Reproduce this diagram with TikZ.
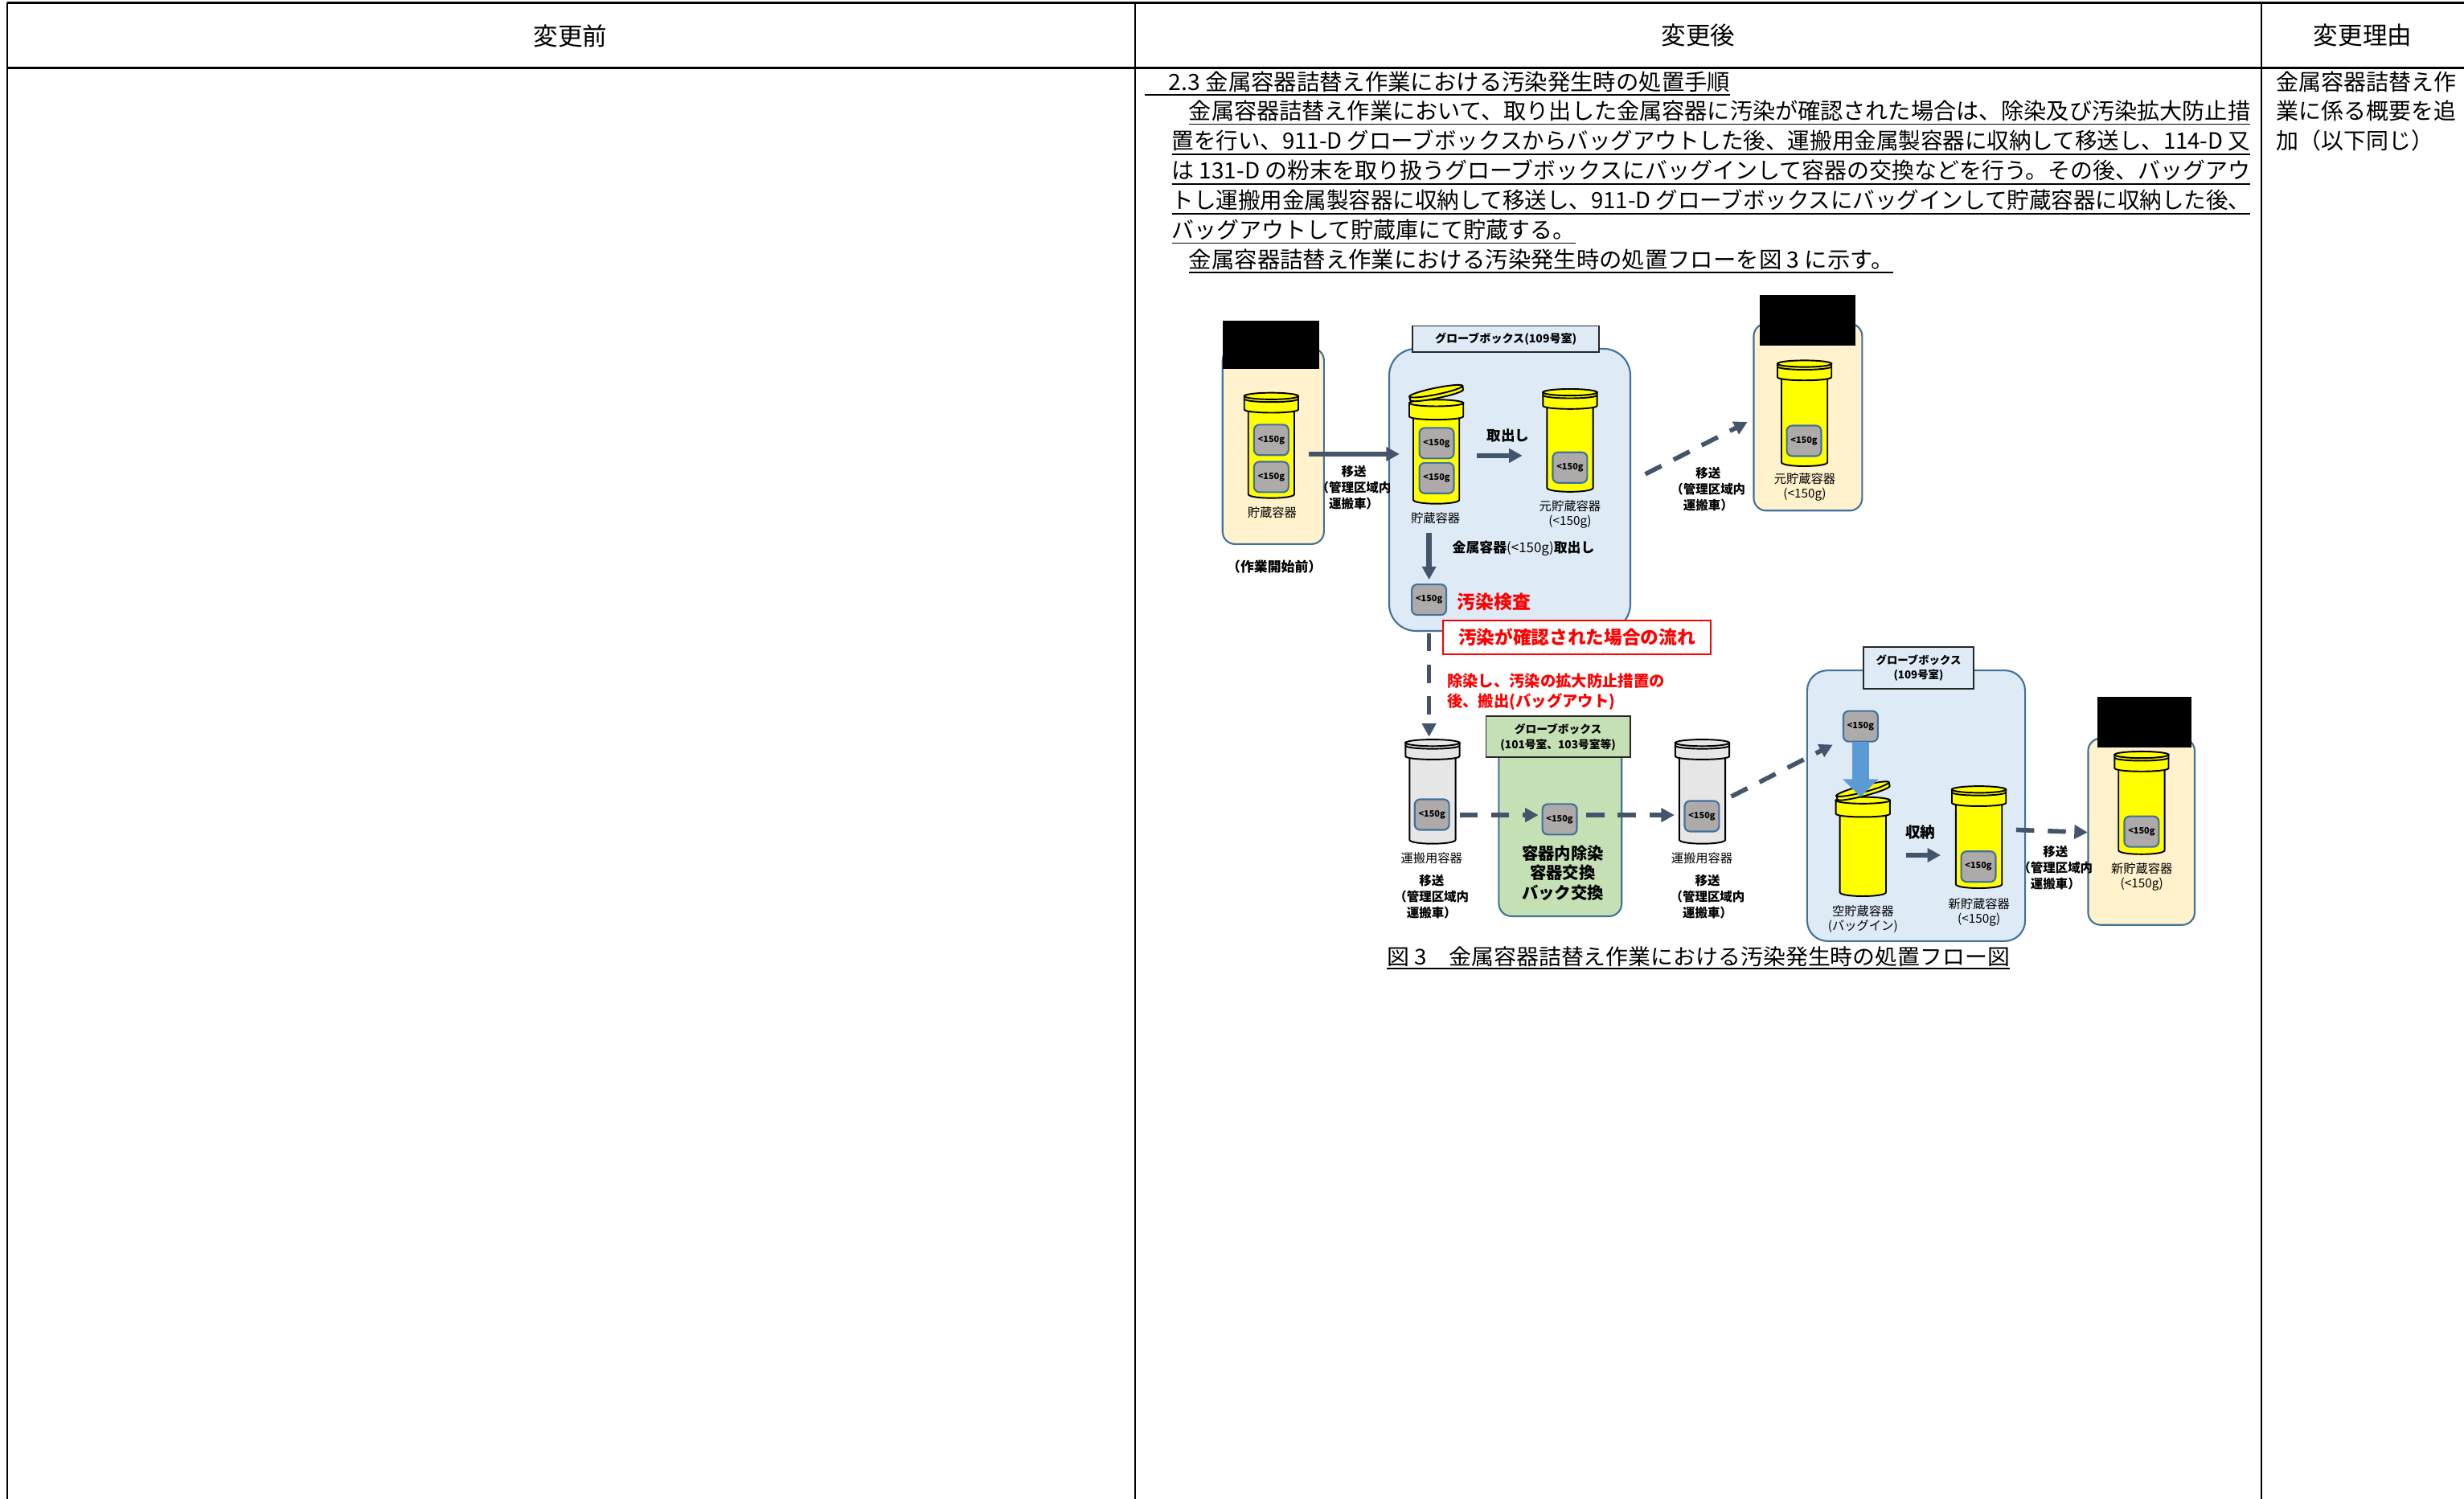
\documentclass[tikz,border=0pt]{standalone}
\usepackage{fontspec}
\usepackage{graphicx}
\setmainfont{Noto Sans CJK JP}
\usetikzlibrary{arrows.meta}

\definecolor{creamfill}{HTML}{FFF2CC}
\definecolor{gbfill}{HTML}{DEEBF7}
\definecolor{gbedge}{HTML}{41719C}
\definecolor{greenfill}{HTML}{C5E0B4}
\definecolor{blkfill}{HTML}{AEAAAA}
\definecolor{arrowc}{HTML}{44546A}
\definecolor{jaryel}{HTML}{FFFF00}
\definecolor{jargray}{HTML}{E7E6E6}
\definecolor{bigblue}{HTML}{5B9BD5}

\newdimen\su \su=0.19547mm

% closed jar: centre x, top of cap, bottom, fill
\newcommand{\jar}[4]{%
  \begin{scope}[shift={(#1,#2)}, line width=0.55pt]
    \filldraw[fill=#4] (-14.65,11) -- (-14.65,#3-#2-2.5) .. controls (-14.65,#3-#2+0.85) and (14.65,#3-#2+0.85) .. (14.65,#3-#2-2.5) -- (14.65,11) -- cycle;
    \filldraw[fill=#4] (-17.2,2.1) -- (-17.2,10.6) .. controls (-17.2,13.4) and (17.2,13.4) .. (17.2,10.6) -- (17.2,2.1) -- cycle;
    \filldraw[fill=#4] (0,2.1) ellipse [x radius=17.2, y radius=2.1];
    \draw (-17.2,3.8) .. controls (-17.2,6.6) and (17.2,6.6) .. (17.2,3.8);
  \end{scope}}

% open jar with tilted lid: centre x, top of ring, bottom, fill, lid x, lid y, tilt
\newcommand{\ojar}[7]{%
  \begin{scope}[shift={(#1,#2)}, line width=0.55pt]
    \filldraw[fill=#4] (-14.65,11) -- (-14.65,#3-#2-2.5) .. controls (-14.65,#3-#2+0.85) and (14.65,#3-#2+0.85) .. (14.65,#3-#2-2.5) -- (14.65,11) -- cycle;
    \filldraw[fill=#4] (-17.2,2.1) -- (-17.2,10.6) .. controls (-17.2,13.4) and (17.2,13.4) .. (17.2,10.6) -- (17.2,2.1) -- cycle;
    \filldraw[fill=#4] (0,2.1) ellipse [x radius=17.2, y radius=2.1];
  \end{scope}
  \begin{scope}[shift={(#5,#6)}, rotate=#7, line width=0.55pt]
    \filldraw[fill=#4] (-17.2,0) -- (-17.2,2.4) .. controls (-17.2,5.2) and (17.2,5.2) .. (17.2,2.4) -- (17.2,0) -- cycle;
    \filldraw[fill=#4] (0,0) ellipse [x radius=17.2, y radius=2.1];
  \end{scope}}

\begin{document}
\begin{tikzpicture}[x=0.19547mm, y=-0.19547mm,
  every node/.style={inner sep=0pt, outer sep=0pt},
  hd/.style={font=\fontsize{8.7}{10}\selectfont},
  txt/.style={font=\fontsize{7.95}{9.5}\selectfont, anchor=base west},
  uline/.style={line width=0.5pt},
  cream/.style={draw=gbedge, fill=creamfill, line width=0.6pt, rounded corners=4.4pt},
  gbox/.style={draw=gbedge, fill=gbfill, line width=0.6pt},
  tbox/.style={draw=black!85, fill=gbfill, line width=0.5pt},
  blk/.style={draw=gbedge, fill=blkfill, line width=0.6pt, rounded corners=1.9pt,
    minimum width=12.2pt, minimum height=10.8pt, font=\fontsize{3.1}{3.5}\selectfont\bfseries},
  lbl/.style={font=\fontsize{4.35}{5.2}\selectfont, align=center},
  mv/.style={font=\fontsize{4.4}{5.7}\selectfont\bfseries, align=center},
  ttl/.style={font=\fontsize{3.9}{5.3}\selectfont\bfseries, align=center},
  flow/.style={draw=arrowc, line width=1.8pt, -{Triangle[length=4.7pt, width=4.8pt]}},
  dflow/.style={flow, line width=1.6pt, dash pattern=on 6.4pt off 4.8pt},
  bigflow/.style={draw=bigblue, line width=5.9pt, -{Triangle[length=6.3pt, width=12.2pt]}}]
\useasboundingbox (0,0) rectangle (1568,954);

% table frame
\draw[line width=0.95pt] (4.5,1.7) -- (1568,1.7);
\draw[line width=0.95pt] (4.5,43.1) -- (1568,43.1);
\draw[line width=0.55pt] (4.5,1.7) -- (4.5,954) (722.3,1.7) -- (722.3,954) (1439.2,1.7) -- (1439.2,954);
\node[hd] (before) at (363,22.7) {変更前};
\node[hd] (after) at (1080.7,22.7) {変更後};
\node[hd] (reason) at (1503.6,22.7) {変更理由};

% body text
\node[txt] (h) at (743.8,57.5) {\resizebox{357.2\su}{\height}{2.3 金属容器詰替え作業における汚染発生時の処置手順}};
\node[txt] (l1) at (756.6,76) {\resizebox{675.4\su}{\height}{金属容器詰替え作業において、取り出した金属容器に汚染が確認された場合は、除染及び汚染拡大防止措}};
\node[txt] (l2) at (745.7,95) {\resizebox{686.3\su}{\height}{置を行い、911-D グローブボックスからバッグアウトした後、運搬用金属製容器に収納して移送し、114-D 又}};
\node[txt] (l3) at (745.7,114) {\resizebox{686.3\su}{\height}{は 131-D の粉末を取り扱うグローブボックスにバッグインして容器の交換などを行う。その後、バッグアウ}};
\node[txt] (l4) at (745.7,133) {\resizebox{686.3\su}{\height}{トし運搬用金属製容器に収納して移送し、911-D グローブボックスにバッグインして貯蔵容器に収納した後、}};
\node[txt] (l5) at (745.7,151.7) {バッグアウトして貯蔵庫にて貯蔵する。};
\node[txt] (l6) at (756.6,170.4) {\resizebox{448.4\su}{\height}{金属容器詰替え作業における汚染発生時の処置フローを図 3 に示す。}};
\draw[uline] ([xshift=-8.5pt,yshift=-1.7pt]h.base west) -- ([yshift=-1.7pt]h.base east);
\foreach \l in {l1,l2,l3,l4,l5,l6}
  \draw[uline] ([yshift=-1.7pt]\l.base west) -- ([yshift=-1.7pt]\l.base east);

\node[txt] (r1) at (1448.6,57.5) {金属容器詰替え作};
\node[txt] (r2) at (1448.6,76) {業に係る概要を追};
\node[txt] (r3) at (1448.6,95) {加（以下同じ）};

% before the work
\draw[cream] (778,221.5) rectangle (842.5,346.3);
\fill (778,204) rectangle (839.5,235);
\jar{809}{250}{317}{jaryel}
\node[blk] (s1a) at (809,280) {<150g};
\node[blk] (s1b) at (809,303.6) {<150g};
\node[lbl] (s1) at (809.5,326) {貯蔵容器};
\node[mv, font=\fontsize{4.8}{5.7}\selectfont\bfseries] (pre) at (811,360.7) {（作業開始前）};

% glovebox 109, first pass
\draw[gbox, rounded corners=9.5pt] (884,222) rectangle (1037.5,401.6);
\draw[tbox] (899,207.5) rectangle (1017.5,224);
\node[ttl, font=\fontsize{4}{5}\selectfont\bfseries] (gb1) at (958.3,215.8) {グローブボックス(109号室)};
\ojar{914}{254.4}{320.6}{jaryel}{913.8}{249}{11.5}
\node[blk] (s2a) at (914.2,282.1) {<150g};
\node[blk] (s2b) at (914.2,304.3) {<150g};
\node[lbl] (s2) at (913.5,330) {貯蔵容器};
\jar{999.1}{247.6}{313}{jaryel}
\node[blk] (o1a) at (999.1,297.6) {<150g};
\node[lbl] (o1) at (999.1,327.3) {元貯蔵容器\\(<150g)};
\node[mv, font=\fontsize{5}{6}\selectfont\bfseries] (take) at (959.7,277) {取出し};
\node[font=\fontsize{4.8}{6}\selectfont] (take2) at (969.5,349) {\textbf{金属容器}(<150g)\textbf{取出し}};
\node[blk] (chk) at (909.4,381.7) {<150g};
\node[text=red, font=\fontsize{6.5}{7.5}\selectfont\bfseries] (insp) at (950.6,383) {汚染検査};

\coordinate (mv1a) at (833,289);
\coordinate (mv1b) at (890.6,289);
\coordinate (tk1a) at (940,290);
\coordinate (tk1b) at (968.8,290);
\coordinate (dn1a) at (909.4,339);
\coordinate (dn1b) at (909.4,369);
\draw[flow] (mv1a) -- (mv1b);
\draw[flow] (tk1a) -- (tk1b);
\draw[flow] (dn1a) -- (dn1b);
\node[mv] (mv1) at (861.5,310.5) {移送\\（管理区域内\\運搬車）};

% back to storage
\draw[cream] (1116,206) rectangle (1185,325);
\fill (1120,188) rectangle (1180.6,220);
\jar{1148.3}{229.4}{296.7}{jaryel}
\node[blk] (o2a) at (1148,280.6) {<150g};
\node[lbl] (o2) at (1148.5,310) {元貯蔵容器\\(<150g)};
\coordinate (mv2a) at (1047,301.8);
\coordinate (mv2b) at (1112,268.6);
\draw[dflow] (mv2a) -- (mv2b);
\node[mv] (mv2) at (1087,311.5) {移送\\（管理区域内\\運搬車）};

% contamination found
\node[draw=red, fill=white, line width=0.6pt, minimum width=94.9pt, minimum height=12pt,
  text=red, font=\fontsize{6.45}{7.5}\selectfont\bfseries] (found) at (1003.4,405.6) {汚染が確認された場合の流れ};
\coordinate (dn2a) at (909.4,403);
\coordinate (dn2b) at (909.4,469);
\draw[dflow] (dn2a) -- (dn2b);
\node[anchor=west, align=left, text=red, font=\fontsize{5.5}{7}\selectfont\bfseries] (note) at (921,440.3) {除染し、汚染の拡大防止措置の\\後、搬出(バッグアウト)};

% transfer jar and glovebox 101/103
\jar{911.6}{470.7}{537}{jargray}
\node[blk] (t1a) at (911.2,518.5) {<150g};
\node[lbl] (t1) at (911,546) {運搬用容器};
\node[mv] (mv3) at (911,571) {移送\\（管理区域内\\運搬車）};

\draw[draw=gbedge, fill=greenfill, line width=0.6pt, rounded corners=4.5pt] (953.8,470) rectangle (1032,583.2);
\draw[draw=black!85, fill=greenfill, line width=0.5pt] (945.6,456) rectangle (1037.4,482);
\node[ttl] (gb2) at (991.5,469.4) {グローブボックス\\(101号室、103号室等)};
\node[blk] (g1a) at (992.5,521.5) {<150g};
\node[mv, font=\fontsize{5.8}{6.95}\selectfont\bfseries] (dec) at (994.5,555.6) {容器内除染\\容器交換\\バック交換};

\coordinate (d3a) at (928.8,518.8);
\coordinate (d3b) at (979,518.8);
\coordinate (d4a) at (1009.4,518.8);
\coordinate (d4b) at (1065.6,518.8);
\draw[dflow] (d3a) -- (d3b);
\draw[dflow] (d4a) -- (d4b);

\jar{1083.3}{470.7}{537}{jargray}
\node[blk] (t2a) at (1083,519.5) {<150g};
\node[lbl] (t2) at (1083,546) {運搬用容器};
\node[mv] (mv4) at (1086.6,571) {移送\\（管理区域内\\運搬車）};

% glovebox 109, second pass
\draw[gbox, rounded corners=7.2pt] (1150,426.7) rectangle (1288.7,599);
\draw[tbox] (1185.8,411.8) rectangle (1256,438.6);
\node[ttl, font=\fontsize{3.8}{5.3}\selectfont\bfseries] (gb3) at (1220.9,425.2) {グローブボックス\\(109号室)};
\coordinate (d5a) at (1101.7,507);
\coordinate (d5b) at (1166.3,474);
\draw[dflow] (d5a) -- (d5b);
\ojar{1185.5}{507.3}{570.4}{jaryel}{1185.3}{502.2}{14.5}
\node[blk] (bin) at (1184,462.3) {<150g};
\coordinate (ej) at (1184,507.3);
\draw[bigflow] (bin.south) -- (ej);
\node[lbl] (ej1) at (1185.5,585.2) {空貯蔵容器\\(バッグイン)};
\jar{1259.3}{500.4}{565.3}{jaryel}
\node[blk] (n1a) at (1259,551.6) {<150g};
\node[lbl] (n1) at (1259.4,580.5) {新貯蔵容器\\(<150g)};
\coordinate (st3a) at (1212.8,544.3);
\coordinate (st3b) at (1235,544.3);
\draw[flow] (st3a) -- (st3b);
\node[mv, font=\fontsize{5.3}{6}\selectfont\bfseries] (keep) at (1222,529.5) {収納};

% new storage
\draw[cream] (1328.8,470) rectangle (1396.6,588.7);
\fill (1334.7,443.5) rectangle (1394.4,475.8);
\jar{1362.8}{478.3}{543.7}{jaryel}
\node[blk] (n2a) at (1362.8,529.3) {<150g};
\node[lbl] (n2) at (1363,558.2) {新貯蔵容器\\(<150g)};
\coordinate (d6a) at (1283,528.2);
\coordinate (d6b) at (1328.5,529.8);
\draw[dflow] (d6a) -- (d6b);
\node[mv] (mv5) at (1308,552.4) {移送\\（管理区域内\\運搬車）};

% caption
\node[txt, font=\fontsize{7.7}{9}\selectfont] (cap) at (882.5,614) {\resizebox{396.5\su}{\height}{図 3　金属容器詰替え作業における汚染発生時の処置フロー図}};
\draw[uline] ([yshift=-1.4pt]cap.base west) -- ([yshift=-1.4pt]cap.base east);
\end{tikzpicture}
\end{document}
